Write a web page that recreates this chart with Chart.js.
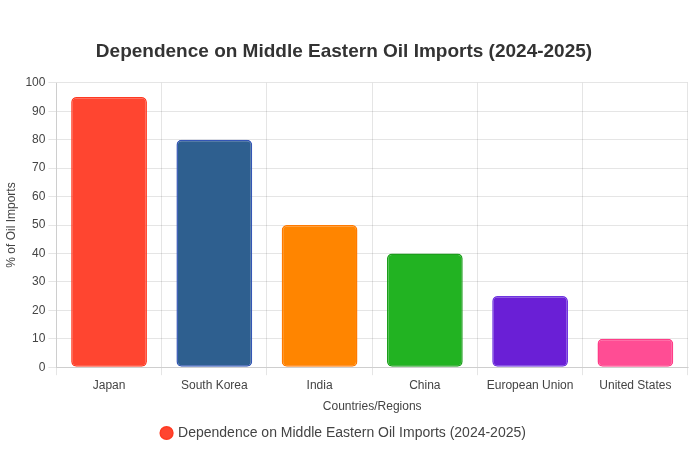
<!DOCTYPE html>
<html>
<head>
<meta charset="utf-8">
<script src="https://cdn.jsdelivr.net/npm/chart.js@4"></script>
<style>
  html, body { margin: 0; padding: 0; background: #fff; }
  #wrap { width: 690px; height: 450px; }
</style>
</head>
<body>
<div id="wrap"><canvas id="oilChart"></canvas></div>
<script>
const regiones = ['Japan', 'South Korea', 'India', 'China', 'European Union', 'United States'];
const dependencia = [95, 80, 50, 40, 25, 10];
const coloresRelleno = ['#FF4530', '#2E5F8F', '#FF8500', '#22B322', '#6A1FD6', '#FF4D94'];
const coloresBorde = ['#FF3A22', '#3456B5', '#FF7A00', '#1C9E1C', '#6F35E0', '#FF3D88'];

Chart.defaults.font.family = 'Arial, "Liberation Sans", sans-serif';
Chart.defaults.color = '#444';

const ctx = document.getElementById('oilChart').getContext('2d');

new Chart(ctx, {
  type: 'bar',
  data: {
    labels: regiones,
    datasets: [{
      label: 'Dependence on Middle Eastern Oil Imports (2024-2025)',
      data: dependencia,
      backgroundColor: coloresRelleno,
      borderColor: coloresBorde,
      borderWidth: 1.5,
      borderRadius: 5,
      borderSkipped: false
    }]
  },
  options: {
    responsive: true,
    maintainAspectRatio: false,
    animation: false,
    layout: { padding: { left: 0, right: 2, top: 40, bottom: 0 } },
    scales: {
      y: {
        beginAtZero: true,
        max: 100,
        ticks: { stepSize: 10, font: { size: 12 } },
        title: { display: true, text: '% of Oil Imports', font: { size: 12 } }
      },
      x: {
        ticks: { font: { size: 12 } },
        title: { display: true, text: 'Countries/Regions', font: { size: 12 } }
      }
    },
    plugins: {
      title: {
        display: true,
        text: 'Dependence on Middle Eastern Oil Imports (2024-2025)',
        font: { size: 19, weight: 'bold' },
        color: '#333',
        padding: { top: 0, bottom: 20 }
      },
      legend: {
        position: 'bottom',
        labels: {
          usePointStyle: true,
          pointStyle: 'circle',
          boxWidth: 9,
          boxHeight: 9,
          font: { size: 14 },
          padding: 8
        }
      }
    }
  }
});
</script>
</body>
</html>
